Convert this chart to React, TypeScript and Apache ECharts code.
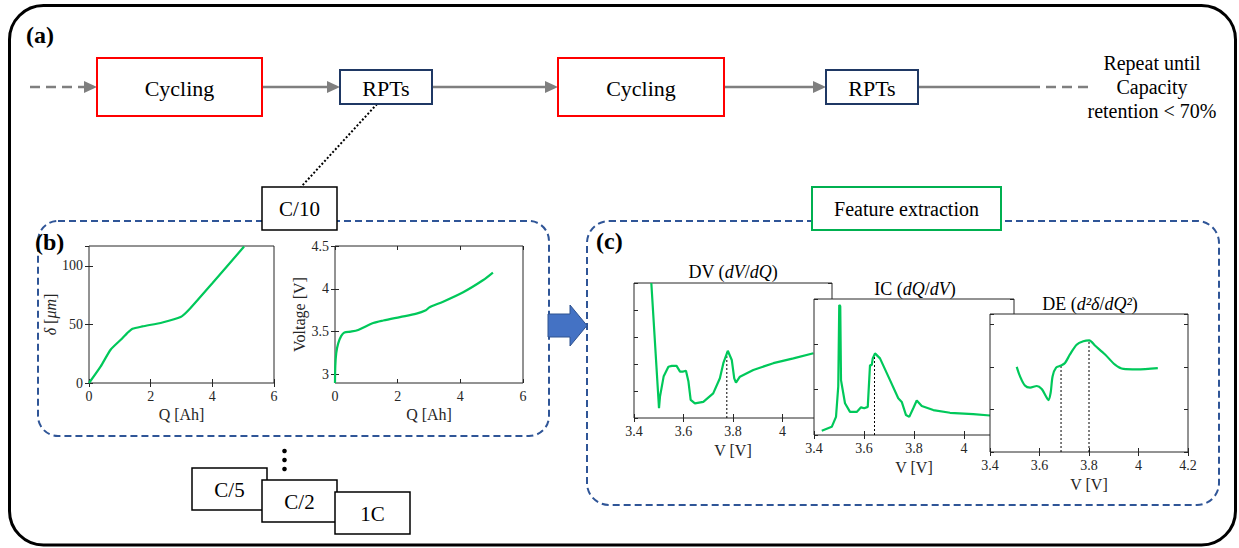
import React, { useEffect, useRef } from "react";
import * as echarts from "echarts";

// ---------- texts ----------
const flowBoxLabels = ["Cycling", "RPTs", "Cycling", "RPTs"];
const repeatNote = "Repeat until\nCapacity\nretention < 70%";
const rateLabels = ["C/10", "C/5", "C/2", "1C"];
const featureLabel = "Feature extraction";
const panelLabels = ["(a)", "(b)", "(c)"];

// ---------- (b) thickness vs capacity ----------
const thickQ = [0, 0.38, 0.7, 1.03, 1.24, 1.41, 1.73, 2.38, 2.97, 3.24, 4.0, 5.03];
const thickDelta = [0, 14.2, 28.4, 36.9, 42.6, 46.3, 48.3, 51.7, 56.3, 62.5, 85.2, 116.5];

// ---------- (b) voltage vs capacity ----------
const voltQ = [0, 0.01, 0.04, 0.1, 0.2, 0.3, 0.5, 0.74, 1.22, 1.54, 2.07, 2.6, 2.9, 3.0, 3.1, 3.45, 4.09, 4.72, 5.04];
const voltV = [2.9, 3.1, 3.25, 3.36, 3.45, 3.49, 3.5, 3.52, 3.6, 3.63, 3.67, 3.71, 3.75, 3.78, 3.8, 3.85, 3.96, 4.1, 4.19];
const voltTicks = [3, 3.5, 4, 4.5];

// ---------- (c) DV ----------
const dvV = [3.47, 3.501, 3.505, 3.52, 3.539, 3.553, 3.572, 3.586, 3.599, 3.61, 3.62, 3.629, 3.646, 3.68, 3.72, 3.747, 3.761, 3.779, 3.795, 3.805, 3.812, 3.828, 3.882, 3.963, 4.044, 4.125];
const dvY = [5.0, 0.36, 0.79, 1.55, 1.9, 1.93, 1.93, 1.72, 1.72, 1.75, 1.35, 0.67, 0.54, 0.6, 0.91, 1.47, 2.03, 2.49, 2.15, 1.47, 1.31, 1.53, 1.78, 2.03, 2.21, 2.4];
const dvMarkV = [3.775];
const dvMarkY = [2.49];

// ---------- (c) IC ----------
const icV = [3.431, 3.471, 3.488, 3.497, 3.501, 3.505, 3.508, 3.524, 3.544, 3.571, 3.588, 3.601, 3.615, 3.624, 3.631, 3.635, 3.644, 3.664, 3.704, 3.737, 3.751, 3.768, 3.781, 3.797, 3.811, 3.831, 3.877, 3.944, 4.037, 4.104];
const icY = [0.095, 0.18, 0.4, 1.07, 2.87, 2.84, 1.21, 0.7, 0.51, 0.51, 0.61, 0.59, 0.62, 1.54, 1.54, 1.69, 1.8, 1.69, 1.21, 0.81, 0.73, 0.44, 0.4, 0.59, 0.76, 0.64, 0.55, 0.49, 0.46, 0.43];
const icMarkV = [3.642];
const icMarkY = [1.8];

// ---------- (c) DE ----------
const deV = [3.508, 3.521, 3.541, 3.562, 3.589, 3.609, 3.626, 3.636, 3.645, 3.653, 3.667, 3.687, 3.703, 3.723, 3.75, 3.777, 3.801, 3.824, 3.865, 3.905, 3.939, 3.993, 4.078];
const deY = [2.0, 1.78, 1.56, 1.51, 1.55, 1.48, 1.31, 1.22, 1.39, 1.78, 1.98, 2.03, 2.09, 2.29, 2.52, 2.6, 2.62, 2.5, 2.29, 2.05, 1.95, 1.94, 1.97];
const deMarkV = [3.687, 3.8];
const deMarkY = [2.03, 2.62];

// ---------- styling ----------
const FONT = "Liberation Serif, serif";
const GREEN = "#00c85a";
const AXC = "#262626";
const GRAY = "#7f7f7f";
const NAVY = "#1f3864";
const DASHBLUE = "#2f5597";

const zip = (a: number[], b: number[]) => a.map((v, i) => [v, b[i]]);

type AxSpec = {
  min: number; max: number; interval?: number; custom?: number[];
  labels: boolean; name?: string; nameGap?: number; hideMax?: boolean;
};

const gridRects = [
  { left: 89, top: 246, width: 185, height: 137 },
  { left: 335, top: 246, width: 188, height: 137 },
  { left: 634, top: 283, width: 198, height: 135 },
  { left: 814, top: 299, width: 200, height: 136 },
  { left: 990, top: 314, width: 198, height: 138 },
];

const italicRich = { i: { fontStyle: "italic", fontFamily: FONT, fontSize: 16, color: AXC } };

const axSpecs: { x: AxSpec; y: AxSpec }[] = [
  { x: { min: 0, max: 6, interval: 2, labels: true, name: "Q [Ah]", nameGap: 23 },
    y: { min: 0, max: 117, interval: 50, labels: true, name: "{i|δ} [{i|μm}]", nameGap: 25, hideMax: true } },
  { x: { min: 0, max: 6, interval: 2, labels: true, name: "Q [Ah]", nameGap: 23 },
    y: { min: 2.9, max: 4.5, custom: voltTicks, labels: true, name: "Voltage [V]", nameGap: 25 } },
  { x: { min: 3.4, max: 4.2, interval: 0.2, labels: true, name: "V [V]", nameGap: 24, hideMax: true },
    y: { min: 0, max: 5, interval: 1, labels: false } },
  { x: { min: 3.4, max: 4.2, interval: 0.2, labels: true, name: "V [V]", nameGap: 24, hideMax: true },
    y: { min: 0, max: 3, interval: 1, labels: false } },
  { x: { min: 3.4, max: 4.2, interval: 0.2, labels: true, name: "V [V]", nameGap: 24 },
    y: { min: 0, max: 3.24, interval: 1, labels: false } },
];

function axis(gi: number, s: AxSpec, position: string, main: boolean, z: number) {
  const a: any = {
    type: "value", gridIndex: gi, position, min: s.min, max: s.max, z,
    axisLine: { show: false }, splitLine: { show: false },
    axisTick: { show: true, inside: true, length: 4, lineStyle: { color: AXC, width: 1 } },
    axisLabel: {
      show: main && s.labels, color: AXC, fontFamily: FONT, fontSize: 14, margin: 6,
      showMaxLabel: !s.hideMax, showMinLabel: true,
    },
  };
  if (s.interval !== undefined) a.interval = s.interval;
  if (s.custom) {
    a.axisTick.customValues = s.custom;
    a.axisLabel.customValues = s.custom;
  }
  if (main && s.name) {
    a.name = s.name;
    a.nameLocation = "middle";
    a.nameGap = s.nameGap;
    a.nameTextStyle = { color: AXC, fontFamily: FONT, fontSize: 16, rich: italicRich };
  }
  return a;
}

function txt(x: number, y: number, text: string, size: number, extra: any = {}) {
  return {
    type: "text", x, y, z: extra.z ?? 120,
    style: {
      text, fontFamily: FONT, fontSize: size, fontWeight: extra.bold ? "bold" : "normal",
      fill: extra.fill ?? "#000", align: extra.align ?? "center", verticalAlign: "middle",
      textAlign: extra.align ?? "center", textVerticalAlign: "middle",
      lineHeight: extra.lineHeight, rich: extra.rich,
    },
  };
}

function box(x: number, y: number, w: number, h: number, stroke: string, lw: number, extra: any = {}) {
  return {
    type: "rect", z: extra.z ?? 110,
    shape: { x, y, width: w, height: h, r: extra.r ?? 0 },
    style: { fill: extra.fill ?? "#fff", stroke, lineWidth: lw, lineDash: extra.dash },
  };
}

function hline(x1: number, x2: number, y: number, dash?: number[]) {
  return {
    type: "line", z: 105, shape: { x1, y1: y, x2, y2: y },
    style: { stroke: GRAY, lineWidth: 2.5, lineDash: dash },
  };
}

function head(xTip: number, y: number) {
  return {
    type: "polygon", z: 106,
    shape: { points: [[xTip - 13, y - 6], [xTip, y], [xTip - 13, y + 6]] },
    style: { fill: GRAY },
  };
}

function buildOption() {
  const grid = gridRects.map((r, i) => ({
    ...r, show: true, backgroundColor: "#fff", borderColor: AXC, borderWidth: 1, z: 10 * (i + 1),
  }));
  const xAxis: any[] = [];
  const yAxis: any[] = [];
  axSpecs.forEach((s, gi) => {
    const z = 10 * (gi + 1) + 1;
    xAxis.push(axis(gi, s.x, "bottom", true, z));
    xAxis.push(axis(gi, s.x, "top", false, z));
    yAxis.push(axis(gi, s.y, "left", true, z));
    yAxis.push(axis(gi, s.y, "right", false, z));
  });

  const curve = (gi: number, data: number[][], smooth: number | boolean) => ({
    type: "line", xAxisIndex: gi * 2, yAxisIndex: gi * 2, data, smooth,
    showSymbol: false, symbol: "none", clip: true, z: 10 * (gi + 1) + 2, silent: true,
    lineStyle: { color: GREEN, width: 2.2 },
  });
  const marker = (gi: number, v: number, top: number) => ({
    type: "line", xAxisIndex: gi * 2, yAxisIndex: gi * 2, data: [[v, 0], [v, top]],
    showSymbol: false, symbol: "none", z: 10 * (gi + 1) + 2, silent: true,
    lineStyle: { color: "#000", width: 1, type: [2, 2] },
  });

  const series: any[] = [
    curve(0, zip(thickQ, thickDelta), 0.2),
    curve(1, zip(voltQ, voltV), 0.3),
    marker(2, dvMarkV[0], dvMarkY[0]),
    curve(2, zip(dvV, dvY), false),
    marker(3, icMarkV[0], icMarkY[0]),
    curve(3, zip(icV, icY), false),
    ...deMarkV.map((v, i) => marker(4, v, deMarkY[i])),
    curve(4, zip(deV, deY), 0.3),
  ];

  const richT = {
    i: { fontStyle: "italic", fontFamily: FONT, fontSize: 18, fill: "#000" },
  };

  const graphic: any[] = [
    // outer frame
    box(9.5, 5.5, 1226, 539.5, "#000", 3, { fill: "none", r: 34, z: 90 }),
    // dashed panels
    box(38, 221, 511, 215, DASHBLUE, 2, { fill: "none", r: 20, dash: [7, 4], z: 95 }),
    box(587, 221, 632, 284, DASHBLUE, 2, { fill: "none", r: 22, dash: [7, 4], z: 95 }),
    // dotted connector
    {
      type: "line", z: 100, shape: { x1: 377, y1: 104, x2: 301, y2: 187 },
      style: { stroke: "#000", lineWidth: 2, lineDash: [2, 2] },
    },
    // C/10 and feature boxes
    box(262, 187, 75, 43, "#000", 1.5),
    txt(299.5, 209, rateLabels[0], 21),
    box(812, 187, 189, 43, "#00b050", 2),
    txt(906.5, 209, featureLabel, 20),
    // flow arrows
    hline(30, 84, 87, [10, 6]),
    head(97, 87),
    hline(262, 328, 87),
    head(340, 87),
    hline(432, 546, 87),
    head(558, 87),
    hline(724, 814, 87),
    head(826, 87),
    hline(918, 1030, 87),
    hline(1030, 1090, 87, [10, 6]),
    // flow boxes
    box(97, 58, 165, 58, "#ff0000", 2),
    txt(179.5, 88, flowBoxLabels[0], 22),
    box(340, 70, 92, 34, NAVY, 2),
    txt(386, 88, flowBoxLabels[1], 22),
    box(558, 58, 166, 58, "#ff0000", 2),
    txt(641, 88, flowBoxLabels[2], 22),
    box(826, 70, 92, 34, NAVY, 2),
    txt(872, 88, flowBoxLabels[3], 22),
    txt(1152, 87, repeatNote, 20, { lineHeight: 24 }),
    // panel labels
    txt(26, 35, panelLabels[0], 24, { bold: true, align: "left" }),
    txt(35, 242, panelLabels[1], 24, { bold: true, align: "left" }),
    txt(596, 241, panelLabels[2], 24, { bold: true, align: "left" }),
    // block arrow
    {
      type: "polygon", z: 120,
      shape: { points: [[548, 314], [570, 314], [570, 305], [587, 325.5], [570, 346], [570, 337], [548, 337]] },
      style: { fill: "#4472c4", stroke: "#2f528f", lineWidth: 1 },
    },
    // dots
    ...[451, 460, 469].map((y) => ({ type: "circle", z: 120, shape: { cx: 284.5, cy: y, r: 2.3 }, style: { fill: "#000" } })),
    // stacked rate boxes
    box(192, 468, 75, 42, "#000", 1.5, { z: 111 }),
    txt(229.5, 490, rateLabels[1], 21, { z: 112 }),
    box(262, 480, 75, 42, "#000", 1.5, { z: 113 }),
    txt(299.5, 502, rateLabels[2], 21, { z: 114 }),
    box(335, 492, 75, 42, "#000", 1.5, { z: 115 }),
    txt(372.5, 514, rateLabels[3], 21, { z: 116 }),
    // plot titles
    txt(733, 272, "DV ({i|dV}/{i|dQ})", 18, { rich: richT }),
    txt(915, 289, "IC ({i|dQ}/{i|dV})", 18, { rich: richT }),
    txt(1090, 304, "DE ({i|d²δ}/{i|dQ²})", 18, { rich: richT }),
  ];

  return { animation: false, backgroundColor: "#fff", grid, xAxis, yAxis, series, graphic };
}

export default function App() {
  const ref = useRef<HTMLDivElement>(null);
  useEffect(() => {
    const chart = echarts.init(ref.current!, null, { renderer: "svg" });
    chart.setOption(buildOption() as any);
    return () => chart.dispose();
  }, []);
  return (
    <div
      ref={ref}
      style={{ position: "fixed", left: 0, top: 0, width: 1239, height: 548, background: "#fff" }}
    />
  );
}
